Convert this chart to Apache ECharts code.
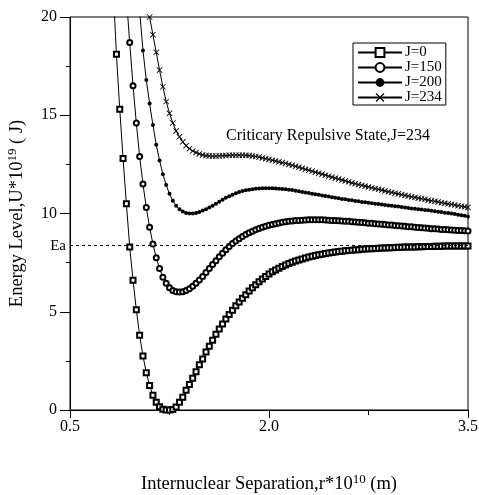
<!DOCTYPE html>
<html>
<head>
<meta charset="utf-8">
<script src="https://cdn.jsdelivr.net/npm/echarts@6/dist/echarts.min.js"></script>
<style>
html, body { margin: 0; padding: 0; background: #fff; }
#chart { width: 479px; height: 495px; }
</style>
</head>
<body>
<div id="chart"></div>
<script>
// internuclear separation r*10^10 (m), one row = 8 samples
const separation = [
    0.825, 0.85, 0.875, 0.9, 0.925, 0.95, 0.975, 1.0,
    1.025, 1.05, 1.075, 1.1, 1.125, 1.15, 1.175, 1.2,
    1.225, 1.25, 1.275, 1.3, 1.325, 1.35, 1.375, 1.4,
    1.425, 1.45, 1.475, 1.5, 1.525, 1.55, 1.575, 1.6,
    1.625, 1.65, 1.675, 1.7, 1.725, 1.75, 1.775, 1.8,
    1.825, 1.85, 1.875, 1.9, 1.925, 1.95, 1.975, 2.0,
    2.025, 2.05, 2.075, 2.1, 2.125, 2.15, 2.175, 2.2,
    2.225, 2.25, 2.275, 2.3, 2.325, 2.35, 2.375, 2.4,
    2.425, 2.45, 2.475, 2.5, 2.525, 2.55, 2.575, 2.6,
    2.625, 2.65, 2.675, 2.7, 2.725, 2.75, 2.775, 2.8,
    2.825, 2.85, 2.875, 2.9, 2.925, 2.95, 2.975, 3.0,
    3.025, 3.05, 3.075, 3.1, 3.125, 3.15, 3.175, 3.2,
    3.225, 3.25, 3.275, 3.3, 3.325, 3.35, 3.375, 3.4,
    3.425, 3.45, 3.475, 3.5
];

// energy level U*10^19 (J), same order as separation
const energyJ0 = [
    21.5, 18.1, 15.3, 12.8, 10.5, 8.3, 6.6, 5.1,
    3.8, 2.75, 1.9, 1.25, 0.75, 0.4, 0.17, 0.04,
    0.0, 0.0, 0.03, 0.15, 0.4, 0.65, 1.0, 1.3,
    1.62, 1.95, 2.3, 2.6, 2.95, 3.25, 3.55, 3.85,
    4.12, 4.38, 4.63, 4.86, 5.08, 5.3, 5.5, 5.69,
    5.87, 6.05, 6.22, 6.38, 6.53, 6.67, 6.8, 6.92,
    7.03, 7.13, 7.22, 7.3, 7.38, 7.45, 7.52, 7.58,
    7.63, 7.68, 7.73, 7.78, 7.82, 7.86, 7.9, 7.93,
    7.96, 7.99, 8.02, 8.04, 8.06, 8.08, 8.1, 8.12,
    8.13, 8.15, 8.16, 8.18, 8.19, 8.2, 8.21, 8.22,
    8.23, 8.24, 8.25, 8.26, 8.26, 8.27, 8.28, 8.28,
    8.29, 8.29, 8.3, 8.3, 8.31, 8.31, 8.32, 8.32,
    8.32, 8.33, 8.33, 8.33, 8.34, 8.34, 8.34, 8.34,
    8.35, 8.35, 8.35, 8.35
];
const energyJ150 = [
    null, null, null, null, 21.0, 18.7, 16.5, 14.6,
    12.9, 11.5, 10.3, 9.3, 8.45, 7.75, 7.2, 6.75,
    6.45, 6.22, 6.08, 6.02, 6.0, 6.02, 6.08, 6.17,
    6.3, 6.45, 6.62, 6.8, 7.0, 7.2, 7.4, 7.6,
    7.8, 7.98, 8.15, 8.32, 8.47, 8.6, 8.72, 8.83,
    8.93, 9.02, 9.1, 9.17, 9.24, 9.3, 9.35, 9.4,
    9.44, 9.48, 9.52, 9.55, 9.58, 9.6, 9.62, 9.64,
    9.65, 9.66, 9.67, 9.68, 9.68, 9.68, 9.68, 9.68,
    9.67, 9.66, 9.65, 9.64, 9.63, 9.62, 9.61, 9.6,
    9.58, 9.57, 9.56, 9.54, 9.53, 9.51, 9.5, 9.48,
    9.47, 9.45, 9.44, 9.42, 9.41, 9.39, 9.38, 9.36,
    9.35, 9.33, 9.32, 9.3, 9.29, 9.27, 9.26, 9.25,
    9.23, 9.22, 9.21, 9.19, 9.18, 9.17, 9.16, 9.15,
    9.14, 9.13, 9.12, 9.11
];
const energyJ200 = [
    null, null, null, null, null, null, null, null,
    20.3, 18.3, 16.8, 15.6, 14.5, 13.5, 12.7, 12.0,
    11.45, 11.0, 10.65, 10.4, 10.22, 10.1, 10.03, 10.0,
    10.0, 10.03, 10.08, 10.15, 10.22, 10.3, 10.4, 10.5,
    10.6, 10.7, 10.8, 10.88, 10.96, 11.03, 11.09, 11.14,
    11.18, 11.21, 11.24, 11.26, 11.27, 11.28, 11.28, 11.28,
    11.28, 11.27, 11.26, 11.25, 11.23, 11.21, 11.19, 11.16,
    11.13, 11.1, 11.07, 11.04, 11.01, 10.98, 10.95, 10.92,
    10.89, 10.86, 10.83, 10.8, 10.77, 10.74, 10.72, 10.69,
    10.67, 10.64, 10.62, 10.59, 10.57, 10.55, 10.52, 10.5,
    10.48, 10.46, 10.43, 10.41, 10.39, 10.37, 10.35, 10.33,
    10.3, 10.28, 10.26, 10.24, 10.22, 10.2, 10.18, 10.16,
    10.14, 10.11, 10.09, 10.07, 10.04, 10.02, 10.0, 9.97,
    9.94, 9.91, 9.88, 9.85
];
const energyJ234 = [
    null, null, null, null, null, null, null, null,
    null, null, 20.9, 20.0, 19.1, 18.2, 17.3, 16.45,
    15.7, 15.1, 14.6, 14.2, 13.9, 13.65, 13.45, 13.3,
    13.18, 13.1, 13.03, 12.98, 12.95, 12.93, 12.92, 12.92,
    12.93, 12.94, 12.95, 12.96, 12.97, 12.97, 12.97, 12.97,
    12.96, 12.95, 12.93, 12.9, 12.87, 12.83, 12.79, 12.75,
    12.71, 12.67, 12.63, 12.59, 12.55, 12.5, 12.45, 12.4,
    12.35, 12.3, 12.25, 12.2, 12.15, 12.1, 12.05, 12.0,
    11.95, 11.9, 11.85, 11.8, 11.75, 11.7, 11.66, 11.61,
    11.56, 11.52, 11.47, 11.43, 11.39, 11.35, 11.31, 11.27,
    11.23, 11.19, 11.15, 11.11, 11.07, 11.03, 11.0, 10.96,
    10.92, 10.89, 10.85, 10.82, 10.78, 10.75, 10.72, 10.68,
    10.65, 10.62, 10.59, 10.55, 10.52, 10.49, 10.46, 10.43,
    10.4, 10.37, 10.34, 10.31
];

const seriesNames = ["J=0", "J=150", "J=200", "J=234"];
const eaLevel = 8.36;
const xTicks = [0.5, 2.0, 3.5];
const yTicks = [0, 5, 10, 15, 20];

const FONT = "'Liberation Serif', 'Times New Roman', serif";
const crossPath = "path://M0,1L1,0L5,4L9,0L10,1L6,5L10,9L9,10L5,6L1,10L0,9L4,5Z";

function curve(name, values, symbol, size, extra) {
    return Object.assign({
        name: name,
        type: "line",
        data: separation.map((r, i) => [r, values[i]]).filter((p) => p[1] != null),
        symbol: symbol,
        symbolSize: size,
        showAllSymbol: true,
        clip: true,
        lineStyle: { color: "#000", width: 1 },
        itemStyle: { color: "#000", borderColor: "#000", borderWidth: 1 },
        emphasis: { disabled: true },
    }, extra || {});
}

const titleRich = {
    a: { fontFamily: FONT, fontSize: 18.5, color: "#000", lineHeight: 22 },
    s: { fontFamily: FONT, fontSize: 13, color: "#000", lineHeight: 22, verticalAlign: "top" },
};

const myChart = echarts.init(document.getElementById("chart"));

const option = {
    animation: false,
    backgroundColor: "#fff",
    textStyle: { fontFamily: FONT, color: "#000" },
    title: {
        text: "Criticary Repulsive State,J=234",
        left: 226,
        top: 128,
        padding: 0,
        textStyle: { fontFamily: FONT, fontSize: 16, fontWeight: "normal", color: "#000" },
    },
    legend: {
        orient: "vertical",
        left: 353,
        top: 43,
        padding: [2, 4, 0, 4],
        itemGap: 0,
        itemWidth: 44,
        itemHeight: 11,
        borderColor: "#000",
        borderWidth: 1,
        borderRadius: 0,
        textStyle: { fontFamily: FONT, fontSize: 15, lineHeight: 14, color: "#000", padding: [0, 0, 0, -2] },
        data: seriesNames,
    },
    grid: {
        left: 70,
        right: 11,
        top: 17,
        bottom: 85,
        outerBoundsMode: "none",
        containLabel: false,
        show: true,
        borderColor: "#000",
        borderWidth: 1,
    },
    xAxis: {
        type: "value",
        min: xTicks[0],
        max: xTicks[xTicks.length - 1],
        interval: xTicks[1] - xTicks[0],
        name: "{a|Internuclear Separation,r*10}{s|10}{a| (m)}",
        nameLocation: "middle",
        nameGap: 63,
        nameTextStyle: { rich: titleRich },
        axisLine: { lineStyle: { color: "#000", width: 1 } },
        axisTick: { length: 8, lineStyle: { color: "#000" } },
        minorTick: { show: true, splitNumber: 2, length: 5, lineStyle: { color: "#000" } },
        splitLine: { show: false },
        axisLabel: {
            fontFamily: FONT,
            fontSize: 16,
            color: "#000",
            margin: 9,
            formatter: (v) => v.toFixed(1),
        },
    },
    yAxis: {
        type: "value",
        min: yTicks[0],
        max: yTicks[yTicks.length - 1],
        interval: yTicks[1] - yTicks[0],
        name: "{a|Energy Level,U*10}{s|19}{a| ( J)}",
        nameLocation: "middle",
        nameRotate: 90,
        nameGap: 42,
        nameTextStyle: { rich: titleRich },
        axisLine: { show: true, lineStyle: { color: "#000", width: 1 } },
        axisTick: { length: 10, lineStyle: { color: "#000" } },
        minorTick: { show: true, splitNumber: 2, length: 4, lineStyle: { color: "#000" } },
        splitLine: { show: false },
        axisLabel: { fontFamily: FONT, fontSize: 16, color: "#000", margin: 13 },
    },
    series: [
        curve(seriesNames[0], energyJ0, "emptyRect", 5, {
            markLine: {
                silent: true,
                symbol: "none",
                lineStyle: { type: [3, 3], color: "#000", width: 1 },
                label: { position: "start", formatter: "Ea", fontFamily: FONT, fontSize: 15, color: "#000", distance: 4 },
                data: [{ yAxis: eaLevel }],
            },
        }),
        curve(seriesNames[1], energyJ150, "emptyCircle", 5),
        curve(seriesNames[2], energyJ200, "circle", 4, { itemStyle: { color: "#000", borderWidth: 0 } }),
        curve(seriesNames[3], energyJ234, crossPath, 6, { itemStyle: { color: "#000", borderWidth: 0 } }),
    ],
};

myChart.setOption(option);
</script>
</body>
</html>
